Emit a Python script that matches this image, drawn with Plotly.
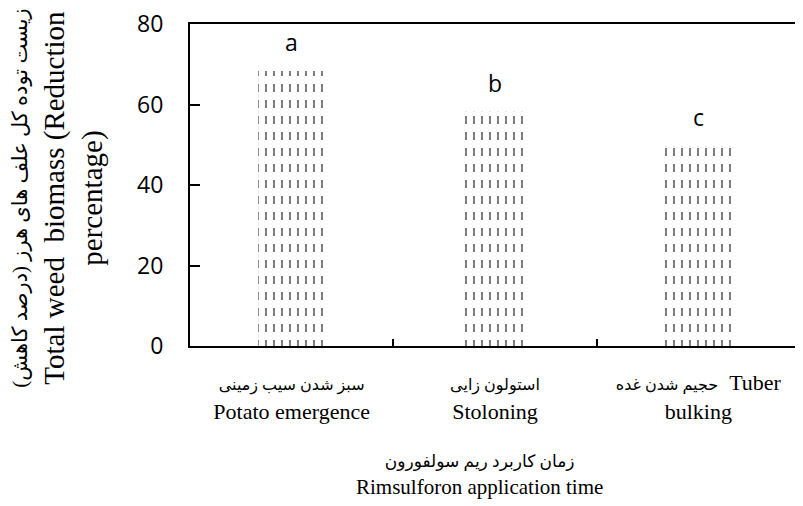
import plotly.graph_objects as go

categories = ["Potato emergence", "Stoloning", "Tuber bulking"]
persian_labels = ["سبز شدن سیب زمینی", "استولون زایی", "حجیم شدن غده"]
english_labels = ["Potato emergence", "Stoloning", "bulking"]
values = [68.3, 58.2, 49.6]
letters = ["a", "b", "c"]

y_title_fa = "زیست توده کل علف های هرز (درصد کاهش)"
y_title_en = ["Total weed  biomass (Reduction", "percentage)"]
x_title_fa = "زمان کاربرد ریم سولفورون"
x_title_en = "Rimsulforon application time"

serif = "Liberation Serif, Times New Roman, DejaVu Sans, serif"
sans = "Open Sans, Liberation Sans, sans-serif"

ticktext = []
for cat, fa, en in zip(categories, persian_labels, english_labels):
    if cat == "Tuber bulking":
        first = f'<span style="font-size:16px">{fa}</span>  Tuber'
    else:
        first = f'<span style="font-size:16px">{fa}</span>'
    ticktext.append(f"{first}<br>{en}")

fig = go.Figure()
fig.add_trace(go.Bar(
    x=categories, y=values, width=0.33,
    marker=dict(color="white", line=dict(width=0),
                pattern=dict(shape="|", fgcolor="black", bgcolor="white",
                             size=8, solidity=0.25)),
    showlegend=False, hoverinfo="skip",
))
fig.add_trace(go.Bar(
    x=categories, y=values, width=0.33,
    marker=dict(color="white", line=dict(width=0),
                pattern=dict(shape="-", fgcolor="white", bgcolor="rgba(255,255,255,0)",
                             fillmode="replace", size=16, solidity=0.5)),
    showlegend=False, hoverinfo="skip",
))

for cat, v, t in zip(categories, values, letters):
    fig.add_annotation(x=cat, y=v, text=t, showarrow=False, yanchor="bottom",
                       yshift=11, font=dict(family=sans, size=23, color="black"))

fig.add_annotation(
    xref="paper", yref="paper", x=0.474, y=0, yshift=-104, yanchor="top",
    showarrow=False, align="center",
    text=f'<span style="font-size:17px">{x_title_fa}</span><br>{x_title_en}',
    font=dict(family=serif, size=21, color="black"),
)

fig.add_annotation(
    xref="paper", yref="paper", x=-0.2167, y=0.4596, xanchor="center", yanchor="middle",
    showarrow=False, align="center", textangle=-90,
    text=f'<span style="font-size:21px">{y_title_fa}</span><br>{y_title_en[0]}<br>{y_title_en[1]}',
    font=dict(family=serif, size=29, color="black"),
)

fig.update_layout(
    width=795, height=498,
    margin=dict(l=182, r=3, t=16, b=160),
    paper_bgcolor="white", plot_bgcolor="white",
    barmode="overlay",
    xaxis=dict(
        tickmode="array", tickvals=categories, ticktext=ticktext,
        tickson="boundaries", ticks="inside", ticklen=7, tickwidth=2, tickcolor="black",
        showline=True, linecolor="black", linewidth=2, mirror=True,
        tickfont=dict(family=serif, size=22, color="black"),
        ticklabelstandoff=16, ticklabeloverflow="allow",
        showgrid=False, automargin=False,
    ),
    yaxis=dict(
        range=[0, 80], dtick=20, ticks="inside", ticklen=10, tickwidth=1.5, tickcolor="black",
        showline=True, linecolor="black", linewidth=2, mirror=True,
        tickfont=dict(family=sans, size=23, color="black"),
        ticklabelstandoff=20, ticklabeloverflow="allow",
        showgrid=False, zeroline=False, automargin=False,
    ),
)

fig.write_html("out.html")
